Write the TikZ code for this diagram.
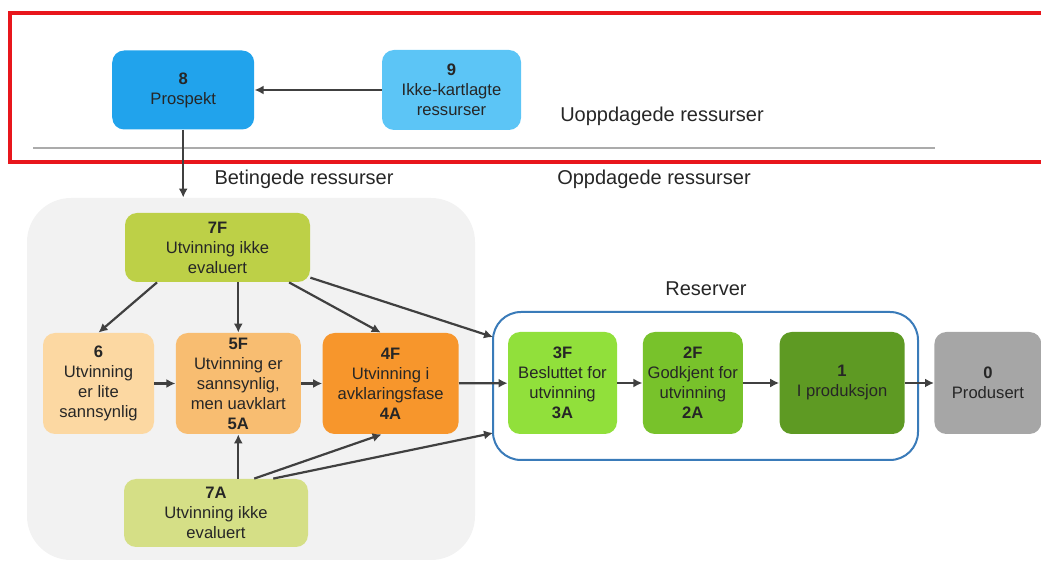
\documentclass[tikz,border=0pt]{standalone}
\usepackage{fontspec}
\setmainfont{Liberation Sans}
\usetikzlibrary{arrows.meta,positioning}

\definecolor{txt}{HTML}{262626}
\definecolor{arr}{HTML}{404040}
\definecolor{framered}{HTML}{E8161C}
\definecolor{sepgrey}{HTML}{ABABAB}
\definecolor{betbg}{HTML}{F2F2F2}
\definecolor{resblue}{HTML}{3A7BB9}
\definecolor{prospekt}{HTML}{21A3EC}
\definecolor{ikkekart}{HTML}{5CC5F6}
\definecolor{ikkeevalF}{HTML}{BDD047}
\definecolor{ikkeevalA}{HTML}{D5DF86}
\definecolor{litesann}{HTML}{FCD8A2}
\definecolor{sannsyn}{HTML}{F8BD71}
\definecolor{avklar}{HTML}{F7962C}
\definecolor{besluttet}{HTML}{91E03B}
\definecolor{godkjent}{HTML}{78C22B}
\definecolor{produksjon}{HTML}{5E9A23}
\definecolor{produsert}{HTML}{A6A6A6}

\tikzset{
  stage/.style={rounded corners=6pt, inner sep=0pt, align=center, text=txt,
    font=\fontsize{8.3}{10}\selectfont},
  heading/.style={text=txt, inner sep=0pt, font=\fontsize{10}{12}\selectfont},
  flow/.style={draw=arr, line width=1.1pt, -{Latex[length=4.5pt,width=4.5pt]}}
}

\begin{document}
\begin{tikzpicture}[x=0.5pt,y=-0.5pt]
\useasboundingbox (0,0) rectangle (1041,561);

% groups
\node[fill=betbg, rounded corners=22pt, inner sep=0pt, minimum width=224pt, minimum height=181pt] (betinget) at (251,379) {};
\node[draw=resblue, line width=1pt, rounded corners=14pt, inner sep=0pt, minimum width=212.5pt, minimum height=74pt] (reserver) at (705.5,386) {};
\draw[framered, line width=2.2pt] (10,13) rectangle (1060,162);
\draw[sepgrey, line width=1.2pt] (33,148) -- (935,148);

% headings
\node[heading] (uoppdaget) at (662,116) {Uoppdagede ressurser};
\node[heading] (oppdaget) at (654,179) {Oppdagede ressurser};
\node[heading] (betingtekst) at (304,179) {Betingede ressurser};
\node[heading] (restekst) at (706,289) {Reserver};

% undiscovered
\node[stage, fill=ikkekart, minimum width=69.5pt, minimum height=40pt] (n9) at (451.5,90) {\textbf{9}\\Ikke-kartlagte\\ressurser};
\node[stage, fill=prospekt, minimum width=71pt, minimum height=39.5pt] [left=63.5pt of n9] (n8) {\textbf{8}\\Prospekt};

% contingent
\node[stage, fill=ikkeevalF, minimum width=92.5pt, minimum height=34.5pt] (n7F) at (217.5,247.5) {\textbf{7F}\\Utvinning ikke\\evaluert};
\node[stage, fill=litesann, minimum width=55.5pt, minimum height=50.5pt] (n6) at (98.5,383.5) {\textbf{6}\\Utvinning\\er lite\\sannsynlig};
\node[stage, fill=sannsyn, minimum width=62.5pt, minimum height=50.5pt] [right=10.5pt of n6] (n5F) {\textbf{5F}\\Utvinning er\\sannsynlig,\\men uavklart\\\textbf{5A}};
\node[stage, fill=avklar, minimum width=68pt, minimum height=50.5pt] [right=10.5pt of n5F] (n4F) {\textbf{4F}\\Utvinning i\\avklaringsfase\\\textbf{4A}};
\node[stage, fill=ikkeevalA, minimum width=92pt, minimum height=34pt] (n7A) at (216,513) {\textbf{7A}\\Utvinning ikke\\evaluert};

% reserves
\node[stage, fill=besluttet, minimum width=54.5pt, minimum height=51pt] (n3F) at (562.5,383) {\textbf{3F}\\Besluttet for\\utvinning\\\textbf{3A}};
\node[stage, fill=godkjent, minimum width=50pt, minimum height=51pt] [right=12.5pt of n3F] (n2F) {\textbf{2F}\\Godkjent for\\utvinning\\\textbf{2A}};
\node[stage, fill=produksjon, minimum width=62.5pt, minimum height=51pt] [right=18pt of n2F] (n1) {\textbf{1}\\I produksjon};
\node[stage, fill=produsert, minimum width=53.5pt, minimum height=51pt] [right=14.5pt of n1] (n0) {\textbf{0}\\Produsert};

\coordinate (rtop) at (493,337);
\coordinate (rbot) at (493,433);

\draw[flow] (n9.west) -- (n9.west -| n8.east);
\draw[flow] (n8.south) -- (n8.south |- betinget.north);
\draw[flow] (n7F.210) -- (n6.north);
\draw[flow] (n7F.south -| n5F.north) -- (n5F.north);
\draw[flow] (n7F.334) -- (n4F.101);
\draw[flow] (n7F.342) -- (rtop);
\draw[flow] (n6) -- (n5F);
\draw[flow] (n5F) -- (n4F);
\draw[flow] (n4F) -- (n3F);
\draw[flow] (n7A.north -| n5F.south) -- (n5F.south);
\draw[flow] (n7A.42) -- (n4F.260);
\draw[flow] (n7A.31) -- (rbot);
\draw[flow] (n3F) -- (n2F);
\draw[flow] (n2F) -- (n1);
\draw[flow] (n1) -- (n0);
\end{tikzpicture}
\end{document}
